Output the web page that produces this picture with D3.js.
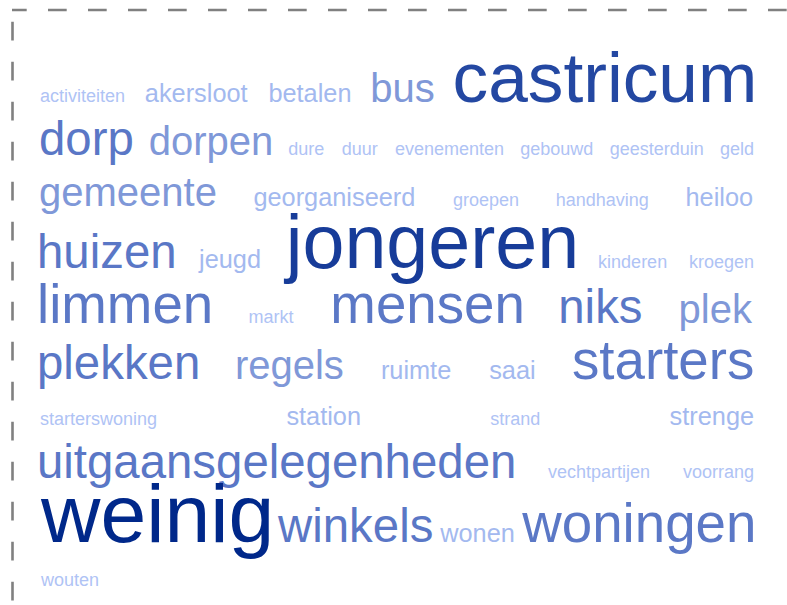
<!DOCTYPE html>
<html>
<head>
<meta charset="utf-8">
<script src="https://cdn.jsdelivr.net/npm/d3@7"></script>
<style>
  body { margin: 0; background: #fff; }
  svg { display: block; }
</style>
</head>
<body>
<div id="app"></div>
<script>
const words = [
  'activiteiten', 'akersloot', 'betalen', 'bus', 'castricum',
  'dorp', 'dorpen', 'dure', 'duur', 'evenementen', 'gebouwd', 'geesterduin', 'geld',
  'gemeente', 'georganiseerd', 'groepen', 'handhaving', 'heiloo',
  'huizen', 'jeugd', 'jongeren', 'kinderen', 'kroegen',
  'limmen', 'markt', 'mensen', 'niks', 'plek',
  'plekken', 'regels', 'ruimte', 'saai', 'starters',
  'starterswoning', 'station', 'strand', 'strenge',
  'uitgaansgelegenheden', 'vechtpartijen', 'voorrang',
  'weinig', 'winkels', 'wonen', 'woningen',
  'wouten'
];
const counts = [
  1, 2, 2, 4, 8.4,
  5, 4, 1, 1, 1, 1, 1, 1,
  4, 2, 1, 1, 2,
  5, 2, 9, 1, 1,
  6, 1, 6, 5, 4,
  5, 4, 2, 2, 6,
  1, 2, 1, 2,
  5, 1, 1,
  10, 5, 2, 6,
  1
];

const width = 787;
const height = 605;
const left = 40;
const right = 753;
const breakWidth = 732;   // width used to decide line breaks
const minGap = 10;
const fontFamily = '"Liberation Sans", Arial, sans-serif';

const size = d3.scaleLinear().domain([1, 6, 10]).range([18, 54.7, 82.3]);
const color = d3.scaleLinear()
  .domain([1, 2, 4, 5, 6, 10])
  .range(['#afc3f5', '#a3b9ef', '#7f98d8', '#5a77c6', '#5b78c6', '#00288a'])
  .interpolate(d3.interpolateRgb);

const ctx = document.createElement('canvas').getContext('2d');
const measure = (text, px) => {
  ctx.font = `${px}px ${fontFamily}`;
  const m = ctx.measureText(text);
  return { adv: m.width, inkL: m.actualBoundingBoxLeft, inkW: m.actualBoundingBoxLeft + m.actualBoundingBoxRight };
};

const items = words.map((w, i) => {
  const px = size(counts[i]);
  return { text: w, count: counts[i], px, ...measure(w, px) };
});

// greedy line filling
const rows = [];
let cur = [];
let used = 0;
items.forEach(d => {
  const need = cur.length ? used + minGap + d.adv : d.adv;
  if (cur.length && need > breakWidth) {
    rows.push(cur);
    cur = [d];
    used = d.adv;
  } else {
    cur.push(d);
    used = need;
  }
});
if (cur.length) rows.push(cur);

// positions: justified rows, baseline step grows with the biggest word of the row
let baseline = 41;
rows.forEach((row, r) => {
  const maxPx = d3.max(row, d => d.px);
  baseline += 38.1 + 0.318 * maxPx;
  const ink = d3.sum(row, d => d.inkW);
  const last = r === rows.length - 1;
  const gap = (last || row.length < 2) ? 8 : (right - left - ink) / (row.length - 1);
  let x = left;
  row.forEach(d => {
    d.x = x + d.inkL;
    d.y = baseline;
    x += d.inkW + gap;
  });
});

const svg = d3.select('#app').append('svg')
  .attr('width', width)
  .attr('height', height);

// dashed frame (top and left edges show)
svg.append('line')
  .attr('x1', 12).attr('y1', 10).attr('x2', width).attr('y2', 10)
  .attr('stroke', '#808080').attr('stroke-width', 2.6)
  .attr('stroke-dasharray', '18.7 21.3').attr('stroke-dashoffset', 4);
svg.append('line')
  .attr('x1', 12.5).attr('y1', 10).attr('x2', 12.5).attr('y2', height)
  .attr('stroke', '#808080').attr('stroke-width', 2.6)
  .attr('stroke-dasharray', '18.7 21.3').attr('stroke-dashoffset', 28.3);

svg.append('g')
  .attr('opacity', 0.999)
  .selectAll('text')
  .data(items)
  .join('text')
  .attr('x', d => d.x)
  .attr('y', d => d.y)
  .attr('font-family', fontFamily)
  .attr('font-size', d => d.px)
  .attr('fill', d => color(d.count))
  .text(d => d.text);
</script>
</body>
</html>
